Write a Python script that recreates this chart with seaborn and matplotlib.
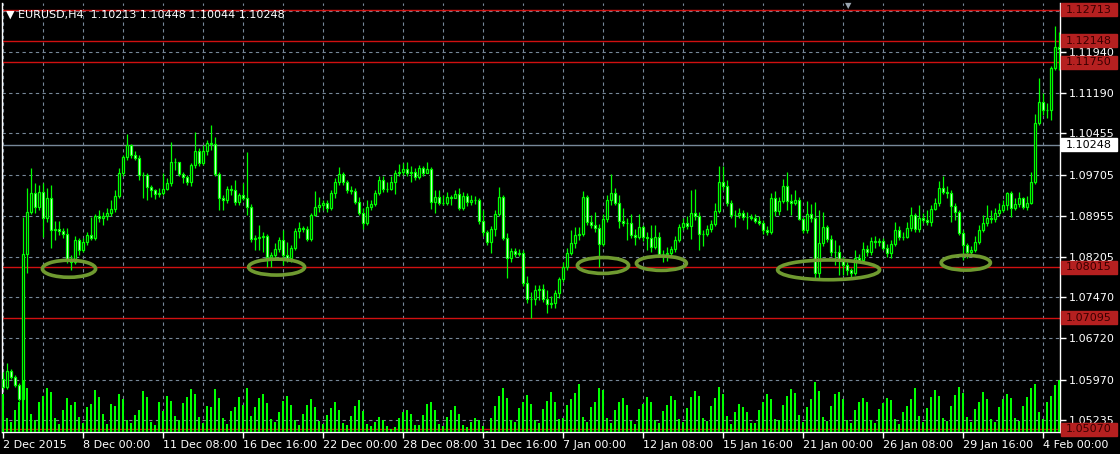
import numpy as np
import matplotlib
matplotlib.use('Agg')
import matplotlib.pyplot as plt
import matplotlib.transforms as mtransforms
from matplotlib.patches import Ellipse, Rectangle
import seaborn as sns

# EURUSD H4 candles, 2 Dec 2015 16:00 .. 4 Feb 2016
first_open = 1.0598
close = [
    1.0584, 1.0613, 1.0602, 1.0588, 1.0562, 1.0826, 1.0902, 1.0937, 1.0912, 1.0939,
    1.0892, 1.0928, 1.0870, 1.0872, 1.0868, 1.0862, 1.0815, 1.0811, 1.0851, 1.0833,
    1.0848, 1.0861, 1.0855, 1.0895, 1.0892, 1.0895, 1.0901, 1.0908, 1.0932, 1.0974,
    1.1003, 1.1025, 1.1006, 1.1001, 1.0970, 1.0970, 1.0948, 1.0943, 1.0935, 1.0937,
    1.0944, 1.0955, 1.0994, 1.0994, 1.0972, 1.0966, 1.0957, 1.0988, 1.1014, 1.0992,
    1.1014, 1.1028, 1.1026, 1.0972, 1.0928, 1.0924, 1.0944, 1.0943, 1.0921, 1.0933,
    1.0928, 1.0912, 1.0853, 1.0855, 1.0857, 1.0859, 1.0820, 1.0824, 1.0835, 1.0851,
    1.0824, 1.0819, 1.0837, 1.0868, 1.0873, 1.0872, 1.0853, 1.0897, 1.0912, 1.0915,
    1.0919, 1.0910, 1.0937, 1.0957, 1.0972, 1.0957, 1.0943, 1.0941, 1.0921, 1.0901,
    1.0882, 1.0912, 1.0917, 1.0937, 1.0961, 1.0944, 1.0944, 1.0957, 1.0974, 1.0975,
    1.0981, 1.0974, 1.0975, 1.0966, 1.0983, 1.0974, 1.0981, 1.0921, 1.0930, 1.0919,
    1.0919, 1.0930, 1.0928, 1.0935, 1.0910, 1.0932, 1.0921, 1.0924, 1.0924, 1.0886,
    1.0866, 1.0848, 1.0872, 1.0899, 1.0930, 1.0855, 1.0819, 1.0831, 1.0826, 1.0828,
    1.0773, 1.0744, 1.0744, 1.0760, 1.0762, 1.0744, 1.0735, 1.0737, 1.0755, 1.0780,
    1.0802, 1.0828, 1.0846, 1.0861, 1.0862, 1.0930, 1.0884, 1.0879, 1.0873, 1.0844,
    1.0890, 1.0924, 1.0937, 1.0919, 1.0886, 1.0882, 1.0882, 1.0861, 1.0857, 1.0875,
    1.0857, 1.0855, 1.0839, 1.0857, 1.0826, 1.0826, 1.0828, 1.0835, 1.0851, 1.0875,
    1.0882, 1.0877, 1.0901, 1.0895, 1.0862, 1.0862, 1.0872, 1.0881, 1.0904, 1.0957,
    1.0950, 1.0919, 1.0897, 1.0897, 1.0901, 1.0893, 1.0893, 1.0892, 1.0886, 1.0882,
    1.0870, 1.0866, 1.0928, 1.0904, 1.0923, 1.0950, 1.0923, 1.0919, 1.0924, 1.0890,
    1.0870, 1.0899, 1.0892, 1.0791, 1.0846, 1.0875, 1.0853, 1.0830, 1.0830, 1.0815,
    1.0806, 1.0797, 1.0791, 1.0819, 1.0815, 1.0835, 1.0830, 1.0850, 1.0848, 1.0850,
    1.0837, 1.0828, 1.0844, 1.0870, 1.0857, 1.0857, 1.0873, 1.0897, 1.0872, 1.0892,
    1.0888, 1.0884, 1.0908, 1.0919, 1.0946, 1.0939, 1.0937, 1.0913, 1.0902, 1.0864,
    1.0842, 1.0830, 1.0833, 1.0848, 1.0870, 1.0882, 1.0892, 1.0890, 1.0901, 1.0906,
    1.0915, 1.0937, 1.0910, 1.0917, 1.0928, 1.0912, 1.0919, 1.0957, 1.1065, 1.1103,
    1.1088, 1.1088, 1.1165, 1.1203, 1.1199,
]
high = [
    1.0611, 1.0627, 1.0616, 1.0606, 1.0591, 1.0893, 1.0946, 1.0983, 1.0955, 1.0952,
    1.0955, 1.0946, 1.0952, 1.0886, 1.0886, 1.0873, 1.0873, 1.0824, 1.0859, 1.0855,
    1.0855, 1.0866, 1.0893, 1.0899, 1.0906, 1.0902, 1.0910, 1.0924, 1.0943, 1.0983,
    1.1006, 1.1045, 1.1026, 1.1014, 1.1006, 1.0975, 1.0974, 1.0952, 1.0944, 1.0946,
    1.0974, 1.0964, 1.1030, 1.1001, 1.0994, 1.0975, 1.0970, 1.0992, 1.1048, 1.1019,
    1.1025, 1.1034, 1.1061, 1.1039, 1.0975, 1.0933, 1.0950, 1.0952, 1.0961, 1.0937,
    1.0955, 1.1012, 1.0917, 1.0861, 1.0879, 1.0866, 1.0862, 1.0830, 1.0846, 1.0857,
    1.0870, 1.0848, 1.0842, 1.0873, 1.0884, 1.0877, 1.0877, 1.0901, 1.0941, 1.0930,
    1.0924, 1.0924, 1.0943, 1.0964, 1.0984, 1.0975, 1.0961, 1.0950, 1.0946, 1.0930,
    1.0910, 1.0924, 1.0924, 1.0943, 1.0968, 1.0968, 1.0957, 1.0968, 1.0979, 1.0990,
    1.0992, 1.0994, 1.0986, 1.0983, 1.0988, 1.0986, 1.0994, 1.0984, 1.0943, 1.0943,
    1.0933, 1.0939, 1.0933, 1.0943, 1.0946, 1.0939, 1.0937, 1.0933, 1.0932, 1.0928,
    1.0906, 1.0870, 1.0877, 1.0906, 1.0948, 1.0933, 1.0864, 1.0837, 1.0837, 1.0835,
    1.0833, 1.0786, 1.0757, 1.0769, 1.0769, 1.0771, 1.0760, 1.0749, 1.0760, 1.0784,
    1.0811, 1.0837, 1.0870, 1.0875, 1.0875, 1.0941, 1.0933, 1.0897, 1.0902, 1.0881,
    1.0899, 1.0933, 1.0972, 1.0946, 1.0933, 1.0910, 1.0892, 1.0899, 1.0872, 1.0899,
    1.0879, 1.0866, 1.0879, 1.0879, 1.0866, 1.0833, 1.0839, 1.0840, 1.0859, 1.0881,
    1.0892, 1.0895, 1.0943, 1.0944, 1.0902, 1.0870, 1.0879, 1.0888, 1.0919, 1.0986,
    1.0986, 1.0961, 1.0924, 1.0906, 1.0910, 1.0906, 1.0902, 1.0899, 1.0899, 1.0895,
    1.0888, 1.0877, 1.0937, 1.0941, 1.0930, 1.0963, 1.0975, 1.0935, 1.0943, 1.0930,
    1.0893, 1.0923, 1.0917, 1.0921, 1.0906, 1.0902, 1.0879, 1.0861, 1.0851, 1.0842,
    1.0820, 1.0811, 1.0800, 1.0833, 1.0826, 1.0848, 1.0842, 1.0857, 1.0859, 1.0855,
    1.0855, 1.0844, 1.0851, 1.0884, 1.0877, 1.0866, 1.0884, 1.0912, 1.0901, 1.0915,
    1.0901, 1.0906, 1.0915, 1.0928, 1.0959, 1.0968, 1.0950, 1.0943, 1.0919, 1.0906,
    1.0870, 1.0846, 1.0840, 1.0859, 1.0879, 1.0897, 1.0915, 1.0906, 1.0910, 1.0919,
    1.0924, 1.0939, 1.0941, 1.0928, 1.0939, 1.0930, 1.0932, 1.0975, 1.1081, 1.1147,
    1.1119, 1.1101, 1.1168, 1.1241, 1.1230,
]
low = [
    1.0580, 1.0580, 1.0598, 1.0584, 1.0558, 1.0524, 1.0791, 1.0899, 1.0901, 1.0906,
    1.0857, 1.0884, 1.0837, 1.0851, 1.0861, 1.0855, 1.0810, 1.0797, 1.0808, 1.0824,
    1.0830, 1.0842, 1.0851, 1.0851, 1.0884, 1.0879, 1.0888, 1.0895, 1.0902, 1.0928,
    1.0968, 1.0997, 1.1001, 1.0997, 1.0961, 1.0928, 1.0924, 1.0930, 1.0926, 1.0930,
    1.0933, 1.0943, 1.0950, 1.0979, 1.0968, 1.0955, 1.0952, 1.0950, 1.0983, 1.0986,
    1.0988, 1.1006, 1.1015, 1.0968, 1.0906, 1.0906, 1.0919, 1.0933, 1.0915, 1.0915,
    1.0924, 1.0897, 1.0848, 1.0833, 1.0833, 1.0830, 1.0802, 1.0802, 1.0819, 1.0830,
    1.0806, 1.0811, 1.0811, 1.0833, 1.0855, 1.0866, 1.0850, 1.0850, 1.0895, 1.0902,
    1.0906, 1.0902, 1.0906, 1.0928, 1.0952, 1.0952, 1.0937, 1.0935, 1.0917, 1.0897,
    1.0872, 1.0879, 1.0906, 1.0913, 1.0933, 1.0939, 1.0939, 1.0943, 1.0935, 1.0968,
    1.0970, 1.0968, 1.0957, 1.0961, 1.0963, 1.0968, 1.0974, 1.0908, 1.0901, 1.0915,
    1.0915, 1.0915, 1.0915, 1.0928, 1.0906, 1.0906, 1.0913, 1.0915, 1.0917, 1.0881,
    1.0859, 1.0842, 1.0828, 1.0859, 1.0895, 1.0851, 1.0782, 1.0811, 1.0820, 1.0822,
    1.0768, 1.0737, 1.0709, 1.0733, 1.0742, 1.0738, 1.0718, 1.0728, 1.0728, 1.0746,
    1.0775, 1.0797, 1.0824, 1.0837, 1.0851, 1.0859, 1.0879, 1.0873, 1.0866, 1.0802,
    1.0840, 1.0884, 1.0915, 1.0915, 1.0873, 1.0877, 1.0851, 1.0855, 1.0842, 1.0853,
    1.0850, 1.0833, 1.0830, 1.0835, 1.0822, 1.0811, 1.0813, 1.0820, 1.0830, 1.0848,
    1.0870, 1.0872, 1.0853, 1.0888, 1.0833, 1.0840, 1.0859, 1.0866, 1.0877, 1.0901,
    1.0943, 1.0913, 1.0892, 1.0875, 1.0892, 1.0888, 1.0872, 1.0888, 1.0882, 1.0879,
    1.0862, 1.0861, 1.0862, 1.0895, 1.0897, 1.0919, 1.0906, 1.0897, 1.0915, 1.0888,
    1.0864, 1.0864, 1.0884, 1.0782, 1.0782, 1.0840, 1.0848, 1.0822, 1.0806, 1.0788,
    1.0788, 1.0788, 1.0782, 1.0788, 1.0811, 1.0811, 1.0822, 1.0824, 1.0837, 1.0840,
    1.0833, 1.0820, 1.0819, 1.0840, 1.0851, 1.0851, 1.0855, 1.0868, 1.0866, 1.0866,
    1.0882, 1.0879, 1.0877, 1.0906, 1.0913, 1.0935, 1.0928, 1.0884, 1.0888, 1.0861,
    1.0815, 1.0819, 1.0824, 1.0830, 1.0844, 1.0866, 1.0877, 1.0882, 1.0884, 1.0895,
    1.0902, 1.0906, 1.0893, 1.0906, 1.0912, 1.0908, 1.0906, 1.0917, 1.0953, 1.1061,
    1.1079, 1.1074, 1.1070, 1.1161, 1.1161,
]
# tick volume per bar
volume = [
    3800, 1400,
    1000, 2200, 3000, 5200, 4400, 1800,
    1200, 3000, 3600, 4400, 4000, 1400,
    800, 2200, 3400, 2700, 3000, 1500,
    900, 2500, 2800, 4200, 3500, 1800,
    800, 2800, 2600, 3800, 3300, 1200,
    900, 1700, 2200, 4100, 3500, 1000,
    700, 3000, 2100, 3600, 3100, 1600,
    1200, 2900, 3500, 4300, 3800, 1500,
    900, 2600, 2500, 4300, 3400, 1400,
    800, 2100, 2500, 3500, 2700, 4400,
    1600, 2500, 3400, 3800, 2900, 1300,
    1000, 2000, 3100, 3600, 2700, 1200,
    700, 1800, 2700, 3300, 2500, 1100,
    800, 1700, 2400, 3000, 2200, 900,
    700, 1600, 2600, 3200, 2100, 800,
    600, 1000, 1500, 1200, 600, 300,
    500, 1400, 2000, 2200, 1800, 700,
    700, 1700, 2800, 3000, 2200, 800,
    600, 1500, 2200, 2600, 1800, 700,
    500, 1000, 1400, 1200, 600, 100,
    1400, 2600, 3600, 4400, 3400, 1200,
    1000, 2400, 3000, 3700, 2800, 1200,
    900, 2300, 3100, 4000, 3000, 1300,
    1400, 2700, 3300, 3900, 4800, 1500,
    1000, 2500, 3000, 4400, 4200, 1400,
    900, 2200, 3000, 3400, 2700, 1100,
    800, 2300, 2800, 3500, 3000, 1200,
    900, 2100, 2700, 3600, 3200, 1300,
    1000, 2400, 3500, 4100, 3600, 1400,
    1100, 2600, 3400, 4500, 3800, 1600,
    800, 2000, 2800, 2500, 2000, 900,
    900, 2200, 3000, 3800, 3300, 1300,
    1200, 2700, 3600, 4300, 3900, 1700,
    1000, 2500, 3300, 5000, 4100, 1500,
    1100, 2600, 3800, 4000, 3300, 1200,
    900, 2200, 3000, 3400, 3000, 1200,
    900, 2300, 2900, 3400, 3200, 1300,
    800, 2000, 2600, 3300, 4400, 1600,
    1000, 2400, 3500, 4200, 3600, 1400,
    1100, 2600, 3700, 4500, 3900, 1500,
    1000, 2300, 3000, 4000, 3300, 1300,
    1000, 2500, 3300, 3800, 3400, 1400,
    1100, 2600, 3500, 4400, 4800, 2000,
    1300, 3000, 3600, 4700, 5200,
]

tick_pos = [0, 20, 40, 60, 80, 100, 120, 140, 160, 180, 200, 220, 240, 260]
tick_labels = ['2 Dec 2015', '8 Dec 00:00', '11 Dec 08:00', '16 Dec 16:00',
               '22 Dec 00:00', '28 Dec 08:00', '31 Dec 16:00', '7 Jan 00:00',
               '12 Jan 08:00', '15 Jan 16:00', '21 Jan 00:00', '26 Jan 08:00',
               '29 Jan 16:00', '4 Feb 00:00']
price_ticks = [1.05235, 1.05970, 1.06720, 1.07470, 1.08205, 1.08955,
               1.09705, 1.10455, 1.11190, 1.11940, 1.12690]
red_levels = [1.12713, 1.12148, 1.11750, 1.08015, 1.07095, 1.05070]
bid = 1.10248
# support zones marked on the chart: (bar, price, width in bars, height)
zones = [(16.5, 1.0799, 13.3, 0.0031), (68.4, 1.0802, 14.0, 0.0029),
         (150.0, 1.0805, 12.8, 0.0029), (164.6, 1.0809, 12.5, 0.0026),
         (206.4, 1.0797, 25.5, 0.0036), (240.7, 1.0810, 12.3, 0.0027)]

sns.set_theme(style='dark', rc={'axes.facecolor': 'black', 'figure.facecolor': 'black'})
plt.rcParams['font.family'] = ['DejaVu Sans']

W, H = 1120, 454
fig = plt.figure(figsize=(W / 100, H / 100), dpi=100)
rect = [2 / W, 22 / H, 1058 / W, 429 / H]
ax = fig.add_axes(rect)
ax.set_facecolor('black')
ymin, ymax = 1.05016, 1.12832
green = '#00ff00'
grid_c = '#778899'

# volume on an overlay axes
axv = fig.add_axes(rect, sharex=ax)
axv.patch.set_visible(False)
vdf = {'bar': np.arange(len(volume)), 'vol': volume}
sns.barplot(data=vdf, x='bar', y='vol', native_scale=True, width=0.3,
            color=green, saturation=1, linewidth=0, errorbar=None, ax=axv)
axv.set_ylim(0, 42900)
axv.axis('off')

idx = np.arange(len(close))
c = np.array(close)
o = np.r_[first_open, c[:-1]]
up = c >= o
ax.vlines(idx, low, high, color=green, lw=0.9, zorder=3)
ax.bar(idx[up], (c - o)[up], bottom=o[up], width=0.6, color='black',
       edgecolor=green, linewidth=0.9, zorder=4)
ax.bar(idx[~up], (o - c)[~up], bottom=c[~up], width=0.6, color='white',
       edgecolor=green, linewidth=0.9, zorder=4)

for lv in red_levels:
    ax.axhline(lv, color='#d01010', lw=1, zorder=2)
ax.axhline(bid, color=grid_c, lw=1, zorder=2)

for x0, y0, w, h in zones:
    ax.add_patch(Ellipse((x0, y0), w, h, fill=False, edgecolor='#6f9a30', lw=2.6, zorder=6))

ax.set_xlim(-0.25, 264.25)
ax.set_ylim(ymin, ymax)
ax.set_xticks(tick_pos)
ax.set_xticklabels(tick_labels, ha='left', color='white', fontsize=8)
ax.set_xticks(np.arange(10, 265, 10), minor=True)
ax.yaxis.tick_right()
ax.set_yticks(price_ticks)
ax.set_yticklabels([f'{p:.5f}' for p in price_ticks[:-1]] + [''], color='white', fontsize=8)
ax.tick_params(axis='x', which='major', length=4, width=1, color='white', pad=2, bottom=True)
ax.tick_params(axis='x', which='minor', length=0)
ax.tick_params(axis='y', length=4, width=1, color='white', pad=2, right=True, left=False)
ax.grid(True, which='both', axis='x', color=grid_c, ls=(0, (3, 3)), lw=0.8)
ax.grid(True, which='major', axis='y', color=grid_c, ls=(0, (3, 3)), lw=0.8)
ax.set_axisbelow(True)
for side in ['left', 'right', 'bottom']:
    ax.spines[side].set_color('white')
    ax.spines[side].set_linewidth(1)
ax.spines['top'].set_visible(False)

# price labels on the right scale
trans = mtransforms.blended_transform_factory(ax.transAxes, ax.transData)
bw, bh = 56 / 1058, 13 * (ymax - ymin) / 429
for lv in red_levels:
    ax.add_patch(Rectangle((1.001, lv - bh / 2), bw, bh, transform=trans,
                           color='#b52020', clip_on=False, zorder=8))
    ax.text(1.0057, lv, f'{lv:.5f}', transform=trans, va='center', ha='left',
            color='#3a0000', fontsize=8, clip_on=False, zorder=9)
ax.add_patch(Rectangle((1.001, bid - bh / 2), bw, bh, transform=trans,
                       color='white', clip_on=False, zorder=8))
ax.text(1.0057, bid, f'{bid:.5f}', transform=trans, va='center', ha='left',
        color='black', fontsize=8, clip_on=False, zorder=9)

fig.text(6 / W, 1 - 15 / H, '▼ EURUSD,H4  1.10213 1.10448 1.10044 1.10248',
         color='white', fontsize=8, va='center', ha='left')
fig.text(848 / W, 1 - 6 / H, '▼', color='#9aa5b0', fontsize=6, ha='center', va='center')

fig.savefig('out.png', dpi=100, facecolor='black')
